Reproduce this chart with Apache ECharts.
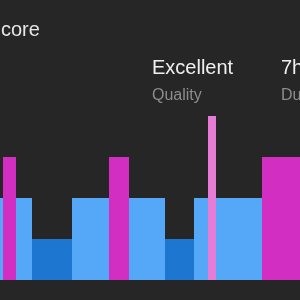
<!DOCTYPE html>
<html>
<head>
<meta charset="utf-8">
<style>
  html, body { margin: 0; padding: 0; background: #262626; }
  #chart { width: 300px; height: 300px; }
</style>
<script src="https://cdn.jsdelivr.net/npm/echarts@6/dist/echarts.min.js"></script>
</head>
<body>
<div id="chart"></div>
<script>
// sleep stages: 1 = deep, 2 = core, 3 = rem, 4 = awake
var stageColors = { 1: '#1d77d1', 2: '#55a8f8', 3: '#d22fc2', 4: '#e67cd6' };

// segments in minutes from start of view
var segStart = [0, 31.7, 72.3, 165.3, 193.7, 3, 109.3, 207.7, 261.7];
var segEnd   = [31.7, 72.3, 165.3, 193.7, 261.7, 15.7, 128.7, 215.7, 300];
var segStage = [2, 1, 2, 1, 2, 3, 3, 4, 3];

var segData = segStart.map(function (s, i) {
  return [s, segEnd[i], segStage[i]];
});

var myChart = echarts.init(document.getElementById('chart'));

var option = {
  backgroundColor: '#262626',
  animation: false,
  grid: { left: 0, right: 0, top: 75, bottom: 20 },
  xAxis: { type: 'value', min: 0, max: 300, show: false },
  yAxis: { type: 'value', min: 0, max: 5, show: false },
  graphic: [
    { type: 'text', left: 1, top: 20, style: { text: 'core', fill: '#e6e6e6', font: '20px "Liberation Sans", sans-serif' } },
    { type: 'text', left: 152, top: 58, style: { text: 'Excellent', fill: '#efefef', font: '20px "Liberation Sans", sans-serif' } },
    { type: 'text', left: 152, top: 88, style: { text: 'Quality', fill: '#8d8d8d', font: '16px "Liberation Sans", sans-serif' } },
    { type: 'text', left: 281, top: 58, style: { text: '7h', fill: '#efefef', font: '20px "Liberation Sans", sans-serif' } },
    { type: 'text', left: 281, top: 88, style: { text: 'Duration', fill: '#8d8d8d', font: '16px "Liberation Sans", sans-serif' } }
  ],
  series: [
    {
      type: 'custom',
      data: segData,
      renderItem: function (params, api) {
        var p0 = api.coord([api.value(0), api.value(2)]);
        var p1 = api.coord([api.value(1), 0]);
        var x0 = Math.round(p0[0]), x1 = Math.round(p1[0]);
        var y0 = Math.round(p0[1]), y1 = Math.round(p1[1]);
        return {
          type: 'rect',
          shape: { x: x0, y: y0, width: x1 - x0, height: y1 - y0 },
          style: { fill: stageColors[api.value(2)] }
        };
      }
    }
  ]
};
myChart.setOption(option);
</script>
</body>
</html>
